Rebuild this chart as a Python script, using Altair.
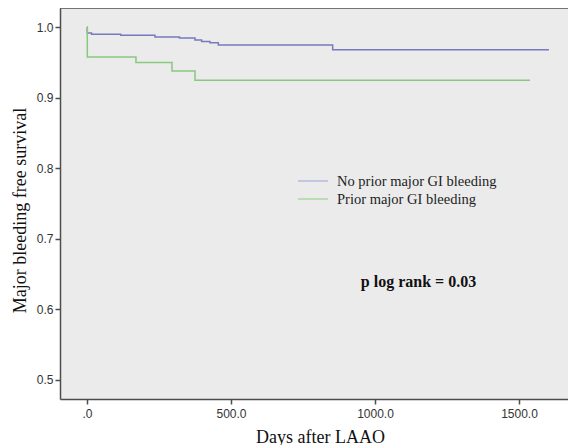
import altair as alt
import pandas as pd

# ---- data ----
groups = ["No prior major GI bleeding", "Prior major GI bleeding"]

no_prior_days = [0, 1, 16, 117, 236, 321, 375, 398, 427, 456, 853, 1604]
no_prior_surv = [1.0, 0.992, 0.990, 0.9886, 0.9863, 0.9848, 0.982, 0.980, 0.978, 0.975, 0.968, 0.968]

prior_days = [0, 1, 170, 295, 375, 1538]
prior_surv = [1.0, 0.958, 0.950, 0.938, 0.925, 0.925]

y_ticks = [0.5, 0.6, 0.7, 0.8, 0.9, 1.0]
x_ticks = [0, 500, 1000, 1500]
p_text = ["p log rank = 0.03"]

line_colors = ["#777bbd", "#88c97e"]
legend_colors = ["#b3badf", "#aad8a2"]

W, H = 508, 391

df = pd.concat([
    pd.DataFrame({"days": no_prior_days, "surv": no_prior_surv, "group": groups[0]}),
    pd.DataFrame({"days": prior_days, "surv": prior_surv, "group": groups[1]}),
])

x_scale = alt.Scale(domain=[-93.75, -93.75 + W / 0.288], nice=False, zero=False)
y_scale = alt.Scale(domain=[0.47277, 1.02738], nice=False, zero=False)

curves = alt.Chart(df).mark_line(interpolate="step-after", strokeWidth=1.5).encode(
    x=alt.X("days:Q", scale=x_scale,
            axis=alt.Axis(values=x_ticks,
                          labelExpr="datum.value == 0 ? '.0' : format(datum.value, '.1f')",
                          title="Days after LAAO", titleX=260, titleY=43,
                          titleBaseline="alphabetic", titleAlign="center",
                          labelPadding=4)),
    y=alt.Y("surv:Q", scale=y_scale,
            axis=alt.Axis(values=y_ticks, format=".1f",
                          title="Major bleeding free survival", titleX=-40, titleY=202,
                          titleAngle=270, titleBaseline="middle", titleAlign="center",
                          labelPadding=2)),
    color=alt.Color("group:N", scale=alt.Scale(domain=groups, range=line_colors), legend=None),
    detail="group:N",
)

top_border = alt.Chart(pd.DataFrame({"a": [0]})).mark_rule(color="#4d4d4d", strokeWidth=1.5).encode(
    x=alt.value(0), x2=alt.value(W), y=alt.value(0)
)

leg_layers = []
leg_y_line = [173, 191]
leg_y_text = [178, 195.5]
for i, g in enumerate(groups):
    d = pd.DataFrame({"g": [g]})
    leg_layers.append(
        alt.Chart(d).mark_rule(color=legend_colors[i], strokeWidth=1.5).encode(
            x=alt.value(238), x2=alt.value(268), y=alt.value(leg_y_line[i]))
    )
    leg_layers.append(
        alt.Chart(d).mark_text(align="left", baseline="alphabetic", font="Liberation Serif",
                               fontSize=14.5, color="#222222").encode(
            x=alt.value(277), y=alt.value(leg_y_text[i]), text="g:N")
    )

p_layer = alt.Chart(pd.DataFrame({"t": p_text})).mark_text(
    align="center", baseline="alphabetic", font="Liberation Serif", fontSize=16,
    fontWeight="bold", color="#111111").encode(
    x=alt.value(358.5), y=alt.value(278.7), text="t:N")

chart = alt.layer(curves, top_border, *leg_layers, p_layer).properties(
    width=W, height=H,
    autosize=alt.AutoSizeParams(type="none"),
    padding={"left": 52, "top": 0, "right": 0, "bottom": 46},
    background="white",
).configure_view(
    fill="#ebebeb", strokeWidth=0
).configure_axis(
    grid=False,
    domainColor="#4d4d4d", domainWidth=1.5,
    tickColor="#4d4d4d", tickWidth=1.5, tickSize=5,
    labelColor="#333333", labelFont="Liberation Sans", labelFontSize=12,
    titleFont="Liberation Serif", titleFontSize=18, titleFontWeight="normal",
    titleColor="#111111",
)

chart.save("out.html", embed_options={"renderer": "svg", "actions": False})
